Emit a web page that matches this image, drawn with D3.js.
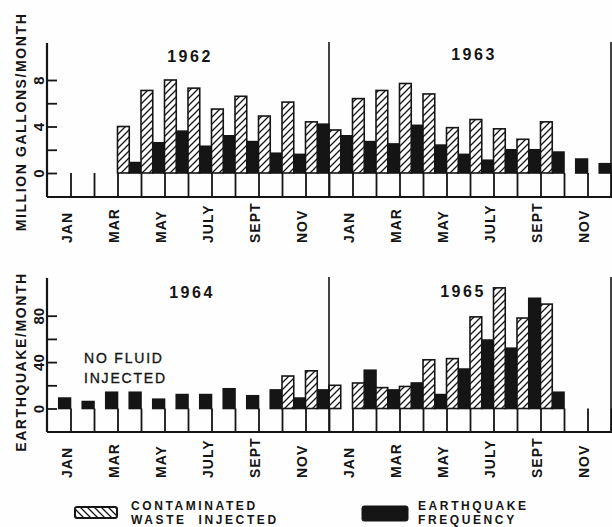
<!DOCTYPE html>
<html><head><meta charset="utf-8">
<script src="https://cdn.jsdelivr.net/npm/d3@7"></script>
<style>
body{margin:0;background:#fff}
svg{display:block}
text{font-family:"Liberation Sans",Arial,sans-serif;fill:#151515}
</style>
</head><body><svg id="c" width="612" height="527"></svg>
<script>
// ---- data ----
const monthLabels = ["JAN","","MAR","","MAY","","JULY","","SEPT","","NOV",""];
const ticksGal = [0,2,4,6,8];
const ticksQuake = [0,20,40,60,80];
const yearsTop = ["1962","1963"];
const yearsBottom = ["1964","1965"];
// contaminated waste injected, million gallons per month (Jan 1962 .. Dec 1963)
const wasteTop = [0,0,4.0,7.1,8.0,7.3,5.5,6.6,4.9,6.1,4.4,3.7,
                  6.4,7.1,7.7,6.8,3.9,4.6,3.8,2.9,4.4,0,0,0];
// earthquake frequency, earthquakes per month (Jan 1962 .. Dec 1963)
const quakeTop = [0,0,0,9,26,36,23,32,27,17,16,42,
                  32,27,25,41,24,16,11,20,20,18,12,8];
// Jan 1964 .. Dec 1965
const wasteBottom = [0,0,0,0,0,0,0,0,0,2.8,3.25,2.0,
                     2.2,1.8,1.9,4.2,4.3,7.9,10.4,7.8,9.0,0,0,0];
const quakeBottom = [9,6,14,14,8,12,12,17,11,16,9,16,
                     0,33,16,22,12,34,59,52,95,14,0,0];
const axisTitleTop = "MILLION GALLONS/MONTH";
const axisTitleBottom = "EARTHQUAKE/MONTH";
const noteLines = ["NO FLUID","INJECTED"];
const legendItems = [
  {kind:"waste", lines:["CONTAMINATED","WASTE  INJECTED"]},
  {kind:"quake", lines:["EARTHQUAKE","FREQUENCY"]}
];

// ---- drawing ----
const ink = "#151515";
const svg = d3.select("#c");
svg.append("rect").attr("width",612).attr("height",527).attr("fill","#fefefe");

const defs = svg.append("defs");
function hatch(id, dir, size){
  const p = defs.append("pattern").attr("id",id).attr("patternUnits","userSpaceOnUse")
    .attr("width",size).attr("height",size);
  p.append("rect").attr("width",size).attr("height",size).attr("fill","#fff");
  const s = size;
  const d = dir > 0
    ? `M0,${s} L${s},0 M${-s/2},${s/2} L${s/2},${-s/2} M${s/2},${s*1.5} L${s*1.5},${s/2}`
    : `M0,0 L${s},${s} M${-s/2},${s/2} L${s/2},${s*1.5} M${s/2},${-s/2} L${s*1.5},${s/2}`;
  p.append("path").attr("d",d).attr("stroke",ink).attr("stroke-width",1.3);
}
hatch("hatchBar", 1, 7);
hatch("hatchLeg", -1, 7);

const x = d3.scaleLinear().domain([-1,23]).range([47,611]);
const hw = (x(1)-x(0))/2;

const panels = [
  {zero:173, top:80, axisTop:43, axisBottom:197, waste:wasteTop, quake:quakeTop,
   years:yearsTop, yearPos:[[190,62],[474,60]], title:axisTitleTop, titleY:122,
   ticks:ticksGal, ticksQ:false},
  {zero:408.5, top:315.7, axisTop:278, axisBottom:432, waste:wasteBottom, quake:quakeBottom,
   years:yearsBottom, yearPos:[[192,298],[463,297]], title:axisTitleBottom, titleY:362,
   ticks:ticksQuake, ticksQ:true}
];

panels.forEach((P, pi) => {
  const g = svg.append("g");
  const yG = d3.scaleLinear().domain([0,8]).range([P.zero, P.top]);
  const yQ = d3.scaleLinear().domain([0,80]).range([P.zero, P.top]);

  // x axis ticks (from baseline up to zero line) + labels
  const xa = g.append("g").attr("transform",`translate(0,${P.axisBottom})`)
    .call(d3.axisBottom(x).tickValues(d3.range(24)).tickSize(-(P.axisBottom-P.zero))
      .tickSizeOuter(0).tickFormat(d => monthLabels[d % 12]));
  xa.select(".domain").remove();
  xa.selectAll(".tick line").attr("stroke",ink).attr("stroke-width",1.8);
  xa.selectAll(".tick text").attr("y",null).attr("dy",null)
    .attr("transform","translate(-4,46) rotate(-90)")
    .attr("text-anchor","start").attr("dominant-baseline","central")
    .attr("fill",ink).style("font-size","14px").style("font-weight","bold")
    .style("letter-spacing","1px");

  // bars
  const idx = d3.range(24);
  g.selectAll("rect.q").data(idx.filter(i => P.quake[i] > 0)).join("rect")
    .attr("class","q")
    .attr("x", i => x(i)-hw).attr("width", hw)
    .attr("y", i => yQ(P.quake[i])).attr("height", i => P.zero - yQ(P.quake[i]))
    .attr("fill", ink).attr("stroke", ink).attr("stroke-width",1.6);
  g.selectAll("rect.w").data(idx.filter(i => P.waste[i] > 0)).join("rect")
    .attr("class","w")
    .attr("x", i => x(i)).attr("width", hw)
    .attr("y", i => yG(P.waste[i])).attr("height", i => P.zero - yG(P.waste[i]))
    .attr("fill","url(#hatchBar)").attr("stroke", ink).attr("stroke-width",1.6);

  // frame: bottom and left axis lines
  g.append("line").attr("x1",x(-1)).attr("x2",x(24.5)).attr("y1",P.axisBottom).attr("y2",P.axisBottom)
    .attr("stroke",ink).attr("stroke-width",2.2);
  g.append("line").attr("x1",x(-1)).attr("x2",x(-1)).attr("y1",P.axisTop).attr("y2",P.axisBottom)
    .attr("stroke",ink).attr("stroke-width",2.2);
  // year separators
  [11,23].forEach(i => {
    g.append("line").attr("x1",x(i)).attr("x2",x(i)).attr("y1",P.axisTop-1).attr("y2",P.axisBottom)
      .attr("stroke",ink).attr("stroke-width",1.6);
  });

  // y axis
  const yScale = P.ticksQ ? yQ : yG;
  const ya = g.append("g").attr("transform",`translate(${x(-1)},0)`)
    .call(d3.axisLeft(yScale).tickValues(P.ticks).tickSize(-10)
      .tickFormat(d => (P.ticksQ ? d % 40 === 0 : d % 4 === 0) ? d : ""));
  ya.select(".domain").remove();
  ya.selectAll(".tick line").attr("stroke",ink).attr("stroke-width",1.8);
  ya.selectAll(".tick text").attr("x",null).attr("dy",null)
    .attr("transform","translate(-9,0) rotate(-90)")
    .attr("text-anchor","middle").attr("dominant-baseline","central")
    .attr("fill",ink).style("font-size","15px").style("font-weight","bold");

  // axis title
  g.append("text").attr("transform",`translate(21,${P.titleY}) rotate(-90)`)
    .attr("text-anchor","middle").attr("dominant-baseline","central")
    .style("font-size","14px").style("font-weight","bold").style("letter-spacing","1.6px")
    .text(P.title);

  // year labels
  P.years.forEach((yr, k) => {
    g.append("text").attr("x",P.yearPos[k][0]).attr("y",P.yearPos[k][1])
      .attr("text-anchor","middle").style("font-size","16px").style("font-weight","bold")
      .style("letter-spacing","2.5px").text(yr);
  });
});

// note in 1964 panel
svg.append("g").selectAll("text").data(noteLines).join("text")
  .attr("x",84).attr("y",(d,i) => 363 + i*19.5)
  .style("font-size","14px").style("letter-spacing","1.8px")
  .attr("stroke",ink).attr("stroke-width",0.35)
  .text(d => d);

// legend
const leg = svg.append("g");
leg.append("rect").attr("x",75).attr("y",507).attr("width",42).attr("height",11).attr("rx",2)
  .attr("fill","url(#hatchLeg)").attr("stroke",ink).attr("stroke-width",2);
leg.append("rect").attr("x",362).attr("y",506).attr("width",46).attr("height",15).attr("rx",2)
  .attr("fill",ink).attr("stroke",ink).attr("stroke-width",1);
const legX = [131, 418];
legendItems.forEach((it, k) => {
  it.lines.forEach((ln, j) => {
    leg.append("text").attr("x",legX[k]).attr("y",509.5 + j*14)
      .attr("xml:space","preserve")
      .style("font-size","12px").style("font-weight","bold").style("letter-spacing","2.6px")
      .style("white-space","pre")
      .text(ln);
  });
});
</script>
</body></html>
